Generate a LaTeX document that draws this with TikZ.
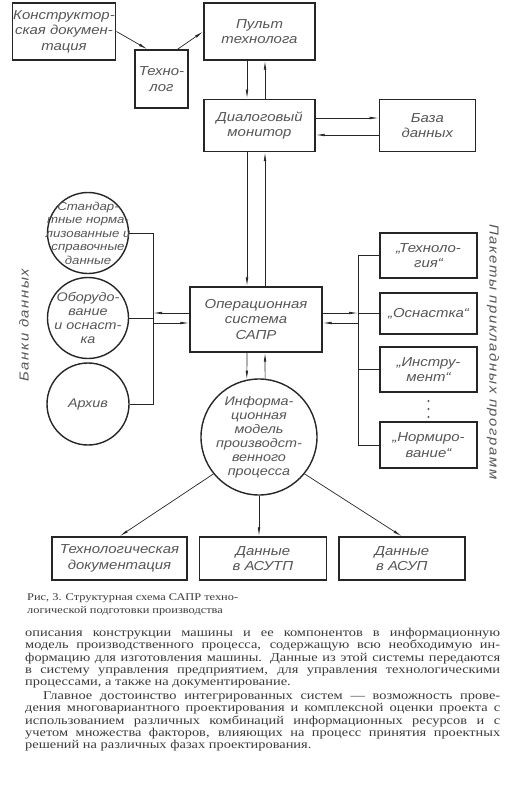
\documentclass[tikz,border=0pt]{standalone}
\usepackage{fontspec}
\setmainfont{Liberation Serif}
\newfontfamily\draftfont[FakeStretch=1.15]{Liberation Sans}
\newfontfamily\spreadfont[FakeStretch=1.15,LetterSpace=12]{Liberation Sans}
\newfontfamily\bookfont[FakeStretch=1.2]{Liberation Serif}
\usetikzlibrary{arrows.meta,positioning,calc}
\definecolor{ink}{HTML}{262626}
\definecolor{pencil}{HTML}{555555}
\definecolor{print}{HTML}{3A3A3A}
\tikzset{
  blok/.style={draw=ink, line width=1.4pt, inner sep=1pt, align=center, text=pencil,
    font=\draftfont\itshape\fontsize{13}{15.5}\selectfont},
  paket/.style={blok, minimum width=97pt},
  disk/.style={circle, draw=ink, line width=1.4pt, inner sep=0pt},
  disktext/.style={align=center, text=pencil, inner sep=0pt,
    font=\draftfont\itshape\fontsize{11.5}{13.5}\selectfont},
  flow/.style={draw=ink, line width=0.7pt, -{Latex[length=9pt,width=2.6pt]}},
  link/.style={draw=ink, line width=0.7pt},
  sidelab/.style={text=pencil, font=\spreadfont\itshape\fontsize{13}{15}\selectfont},
}

\begin{document}
\begin{tikzpicture}[x=1pt, y=-1pt]
\useasboundingbox (0,0) rectangle (525,803);

% top row
\node[blok, minimum width=98pt, minimum height=57pt] (konstr) at (64,31.5) {Конструктор-\\ская докумен-\\тация};
\node[blok, minimum width=111pt, minimum height=57pt] (pult) at (259.5,31.5) {Пульт\\технолога};
\node[blok, minimum width=53pt, minimum height=58pt] (tehn) at (161.5,79) {Техно-\\лог};
\node[blok, minimum width=111pt, minimum height=52pt, below=38pt of pult] (dialog) {Диалоговый\\монитор};
\node[blok, minimum width=96pt, minimum height=52pt, right=63pt of dialog] (baza) {База\\данных};

% centre
\node[blok, minimum width=132pt, minimum height=65pt] (os) at (256,319.5) {Операционная\\система\\САПР};
\node[disk, minimum size=116pt, label={[disktext, font=\draftfont\itshape\fontsize{12.5}{14}\selectfont]center:{Информа-\\ционная\\модель\\производст-\\венного\\процесса}}] (info) at (259,437) {};

% data banks
\node[disk, minimum size=81pt, label={[disktext]center:{Стандар-\\тные норма-\\лизованные и\\справочные\\данные}}] (stand) at (88,233) {};
\node[disk, minimum size=81pt, label={[disktext, font=\draftfont\itshape\fontsize{12.5}{14}\selectfont]center:{Оборудо-\\вание\\и оснаст-\\ка}}] (obor) at (88,318) {};
\node[disk, minimum size=82pt, label={[disktext, font=\draftfont\itshape\fontsize{12.5}{14}\selectfont]center:{Архив}}] (arhiv) at (88,404) {};

% program packages
\node[paket, minimum height=45pt] (tech) at (428.5,255.5) {„Техноло-\\гия“};
\node[paket, minimum height=41pt] (osn) at (428.5,313.5) {„Оснастка“};
\node[paket, minimum height=45pt] (instr) at (428.5,369.5) {„Инстру-\\мент“};
\node[paket, minimum height=46pt] (norm) at (428.5,445) {„Нормиро-\\вание“};
\coordinate (dots) at (428.5,409);
\foreach \d in {-8,0,8}
  \fill[pencil] ([yshift=\d pt]dots) circle (1.1pt);

% outputs
\node[blok, minimum width=135pt, minimum height=43pt] (tdoc) at (119.5,558.5) {Технологическая\\документация};
\node[blok, minimum width=127pt, minimum height=43pt, right=11pt of tdoc] (asutp) {Данные\\в АСУТП};
\node[blok, minimum width=126pt, minimum height=43pt, right=11pt of asutp] (asup) {Данные\\в АСУП};

\node[sidelab, rotate=90] (banki) at (24,325) {Банки данных};
\node[sidelab, rotate=-90] (pakety) at (493,352) {Пакеты прикладных программ};

% lanes
\coordinate (laneA) at (247,0);
\coordinate (laneB) at (265,0);
\coordinate (rowA) at (0,118);
\coordinate (rowB) at (0,135);
\coordinate (rowC) at (0,313);
\coordinate (rowD) at (0,323);
\coordinate (lbus) at (153,0);
\coordinate (rbus) at (358,0);

\draw[flow] (konstr.east) -- ([xshift=-14pt]tehn.north);
\draw[flow] ([xshift=16pt]tehn.north) -- (pult.west);
\draw[flow] (pult.south -| laneA) -- (dialog.north -| laneA);
\draw[flow] (dialog.north -| laneB) -- (pult.south -| laneB);
\draw[flow] (dialog.east |- rowA) -- (baza.west |- rowA);
\draw[flow] (baza.west |- rowB) -- (dialog.east |- rowB);
\draw[flow] (dialog.south -| laneA) -- (os.north -| laneA);
\draw[flow] (os.north -| laneB) -- (dialog.south -| laneB);
\draw[flow] (os.south -| laneA) -- (info.102);
\draw[flow] (info.84) -- (os.south -| laneB);

\draw[flow] (os.west |- rowC) -- (lbus |- rowC);
\draw[flow] (lbus |- rowD) -- (os.west |- rowD);
\draw[flow] (os.east |- rowC) -- (rbus |- rowC);
\draw[flow] (rbus |- rowD) -- (os.east |- rowD);

\draw[link] (stand.east) -- (stand.east -| lbus) -- (arhiv.east -| lbus) -- (arhiv.east);
\draw[link] (obor.east) -- (obor.east -| lbus);
\draw[link] (tech.west) -- (tech.west -| rbus) -- (norm.west -| rbus) -- (norm.west);
\foreach \p in {osn, instr}
  \draw[link] (\p.west) -- (\p.west -| rbus);

\draw[flow] (info.219) -- (tdoc.north);
\draw[flow] (info.south) -- (info.south |- asutp.north);
\draw[flow] (info.321) -- (asup.north);

% caption and text
\node[anchor=north west, inner sep=0pt, align=left, text=print,
  font=\bookfont\fontsize{10.3}{13}\selectfont] (caption) at (27,593)
  {Рис, 3. Структурная схема САПР техно-\\логической подготовки производства};
\node[anchor=north west, inner sep=0pt, align=left, text=print,
  font=\bookfont\fontsize{12}{12.3}\selectfont] (body) at (25,628) {%
\makebox[475pt][s]{описания конструкции машины и ее компонентов в информационную}\\
\makebox[475pt][s]{модель производственного процесса, содержащую всю необходимую ин-}\\
\makebox[475pt][s]{формацию для изготовления машины. Данные из этой системы передаются}\\
\makebox[475pt][s]{в систему управления предприятием, для управления технологическими}\\
процессами, а также на документирование.\\[1.5pt]
\makebox[475pt][s]{\hspace*{18pt}Главное достоинство интегрированных систем~— возможность прове-}\\
\makebox[475pt][s]{дения многовариантного проектирования и комплексной оценки проекта с}\\
\makebox[475pt][s]{использованием различных комбинаций информационных ресурсов и с}\\
\makebox[475pt][s]{учетом множества факторов, влияющих на процесс принятия проектных}\\
решений на различных фазах проектирования.};

\end{tikzpicture}
\end{document}
